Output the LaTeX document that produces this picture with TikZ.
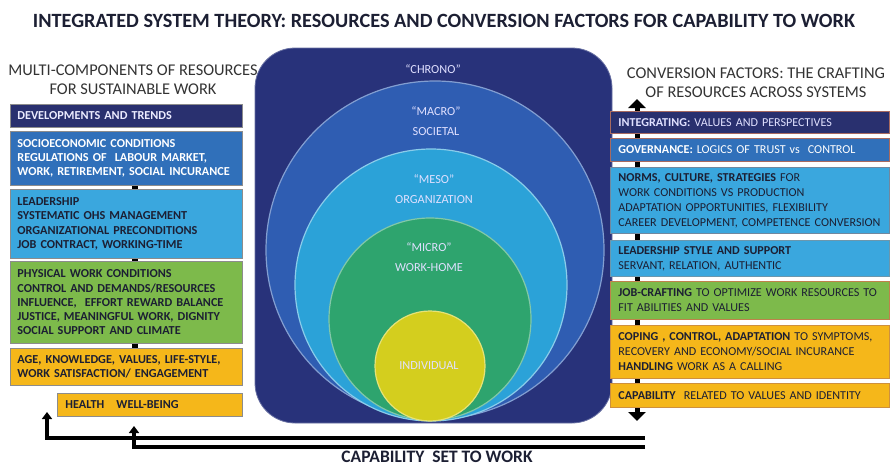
\documentclass[tikz,border=0pt]{standalone}
\usepackage{fontspec}
\setmainfont{Carlito}
\usetikzlibrary{arrows.meta}
\definecolor{navy}{HTML}{29306F}
\definecolor{midblue}{HTML}{3070BA}
\definecolor{lightblue}{HTML}{3AA7DE}
\definecolor{grn}{HTML}{7DBA4B}
\definecolor{gold}{HTML}{F5B71A}
\definecolor{chrono}{HTML}{28327A}
\definecolor{macro}{HTML}{2F5DB2}
\definecolor{meso}{HTML}{2BA2D8}
\definecolor{micro}{HTML}{2EA46E}
\definecolor{indiv}{HTML}{D4CE1E}
\definecolor{darktext}{HTML}{1C1F33}
\definecolor{headtext}{HTML}{333333}
\definecolor{boxgray}{HTML}{8C8C8C}
\definecolor{rborder}{HTML}{A86A60}
\begin{document}
\begin{tikzpicture}[x=1pt,y=-1pt,
  box/.style={draw=boxgray, line width=0.8pt, anchor=north west, inner xsep=7pt, inner ysep=0pt,
    align=left, font=\fontsize{12.2}{14.3}\selectfont\bfseries, text=darktext},
  rbox/.style={box, draw=rborder, inner xsep=8pt, font=\fontsize{12.1}{15}\selectfont},
  heading/.style={align=center, text=headtext, font=\fontsize{16.4}{18.8}\selectfont},
  clabel/.style={align=center, text=white!88!blue, font=\fontsize{12.3}{20}\selectfont},
  conn/.style={line width=6pt, draw=black},
  bigarrow/.style={line width=5pt, -{Triangle[width=17pt,length=9pt]}},
  botarrow/.style={line width=3.5pt, -{Triangle[width=10pt,length=7pt]}},
]
\useasboundingbox (0,0) rectangle (891,466);

% title
\node (title) at (444,21) {\resizebox{822pt}{!}{\bfseries\color{darktext}INTEGRATED SYSTEM THEORY: RESOURCES AND CONVERSION FACTORS FOR CAPABILITY TO WORK}};

% centre
\node[draw=chrono!70!white, line width=0.8pt, fill=chrono, rounded corners=40pt, minimum width=357pt, minimum height=375pt] (chronobox) at (433.5,235.5) {};
\fill[macro, draw=macro!60!white, line width=1.2pt] (435,250) circle[radius=169pt];
\fill[meso, draw=meso!55!white, line width=1.2pt] (431,285) circle[radius=136pt];
\fill[micro, draw=micro!60!white, line width=1.2pt] (430,319) circle[radius=101pt];
\fill[indiv, draw=indiv!60!white, line width=1.2pt] (430,366) circle[radius=55pt];

\node[clabel] (lchrono) at (433,69) {“CHRONO”};
\node[clabel] (lmacro) at (436,121) {“MACRO”\\SOCIETAL};
\node[clabel] (lmeso) at (434,189) {“MESO”\\ORGANIZATION};
\node[clabel] (lmicro) at (429,257.5) {“MICRO”\\WORK-HOME};
\node[clabel] (lind) at (429,366) {INDIVIDUAL};

% headings
\node[heading] (lhead) at (133,80) {MULTI-COMPONENTS OF RESOURCES\\FOR SUSTAINABLE WORK};
\node[heading] (rhead) at (756,82.5) {CONVERSION FACTORS: THE CRAFTING\\OF RESOURCES ACROSS SYSTEMS};

% coordinates for connector columns
\coordinate (lx) at (135,0);
\coordinate (rx) at (637,0);
\coordinate (rtop) at (637,99);
\coordinate (rbot) at (637,421);

% right vertical arrow (behind boxes)
\draw[bigarrow] (637,250) -- (rtop);
\draw[bigarrow] (637,250) -- (rbot);

% left boxes
\node[box, fill=navy, text=white!92!blue, text width=218pt, minimum height=23pt] (L1) at (10,104) {DEVELOPMENTS AND TRENDS};
\node[box, fill=midblue, text=white, text width=218pt, minimum height=54pt] (L2) at (10,131) {SOCIOECONOMIC CONDITIONS\\REGULATIONS OF~ LABOUR MARKET,\\WORK, RETIREMENT, SOCIAL INCURANCE};
\node[box, fill=lightblue, text width=218pt, minimum height=69pt] (L3) at (10,189) {LEADERSHIP\\SYSTEMATIC OHS MANAGEMENT\\ORGANIZATIONAL PRECONDITIONS\\JOB CONTRACT, WORKING-TIME};
\node[box, fill=grn, text width=218pt, minimum height=82pt] (L4) at (10,261) {PHYSICAL WORK CONDITIONS\\CONTROL AND DEMANDS/RESOURCES\\INFLUENCE,~ EFFORT REWARD BALANCE\\JUSTICE, MEANINGFUL WORK, DIGNITY\\SOCIAL SUPPORT AND CLIMATE};
\node[box, fill=gold, text width=218pt, minimum height=37pt] (L5) at (10,348) {AGE, KNOWLEDGE, VALUES, LIFE-STYLE,\\WORK SATISFACTION/ ENGAGEMENT};
\node[box, fill=gold, inner xsep=8pt, text width=169pt, minimum height=23pt] (L6) at (57,393) {HEALTH~~ WELL-BEING};

\draw[conn] (L2.south -| lx) -- (L3.north -| lx);
\draw[conn] (L3.south -| lx) -- (L4.north -| lx);
\draw[conn] (L4.south -| lx) -- (L5.north -| lx);

% right boxes
\node[rbox, fill=navy, text=white!88!blue, text width=263pt, minimum height=22pt] (R1) at (610,111) {\textbf{INTEGRATING:} VALUES AND PERSPECTIVES};
\node[rbox, fill=midblue, text=white, text width=263pt, minimum height=23pt] (R2) at (610,138) {\textbf{GOVERNANCE:} LOGICS OF TRUST vs~ CONTROL};
\node[rbox, fill=lightblue, draw=rborder!50!lightblue, text width=263pt, minimum height=66pt] (R3) at (610,167) {\textbf{NORMS, CULTURE, STRATEGIES} FOR\\WORK CONDITIONS VS PRODUCTION\\ADAPTATION OPPORTUNITIES, FLEXIBILITY\\CAREER DEVELOPMENT, COMPETENCE CONVERSION};
\node[rbox, fill=lightblue, draw=boxgray!60!lightblue, text width=263pt, minimum height=36pt] (R4) at (610,240) {\textbf{LEADERSHIP STYLE AND SUPPORT}\\SERVANT, RELATION, AUTHENTIC};
\node[rbox, fill=grn, draw=rborder!70!gold, text width=263pt, minimum height=38pt] (R5) at (610,281) {\textbf{JOB-CRAFTING} TO OPTIMIZE WORK RESOURCES TO\\FIT ABILITIES AND VALUES};
\node[rbox, fill=gold, draw=rborder!50!gold, text width=263pt, minimum height=53pt] (R6) at (610,325) {\textbf{COPING , CONTROL, ADAPTATION} TO SYMPTOMS,\\RECOVERY AND ECONOMY/SOCIAL INCURANCE\\\textbf{HANDLING} WORK AS A CALLING};
\node[rbox, fill=gold, draw=rborder!50!gold, text width=263pt, minimum height=24pt] (R7) at (610,383) {\textbf{CAPABILITY}~ RELATED TO VALUES AND IDENTITY};

% bottom arrows
\coordinate (b1s) at (645,438);
\coordinate (b1e) at (47,412);
\coordinate (b2s) at (645,447);
\coordinate (b2e) at (134,426);
\draw[botarrow] (b1s) -| (b1e);
\draw[botarrow] (b2s) -| (b2e);

\node[text=darktext, font=\fontsize{17.5}{19}\selectfont\bfseries, inner sep=1pt] (cap) at (437,457) {CAPABILITY~ SET TO WORK};
\end{tikzpicture}
\end{document}
